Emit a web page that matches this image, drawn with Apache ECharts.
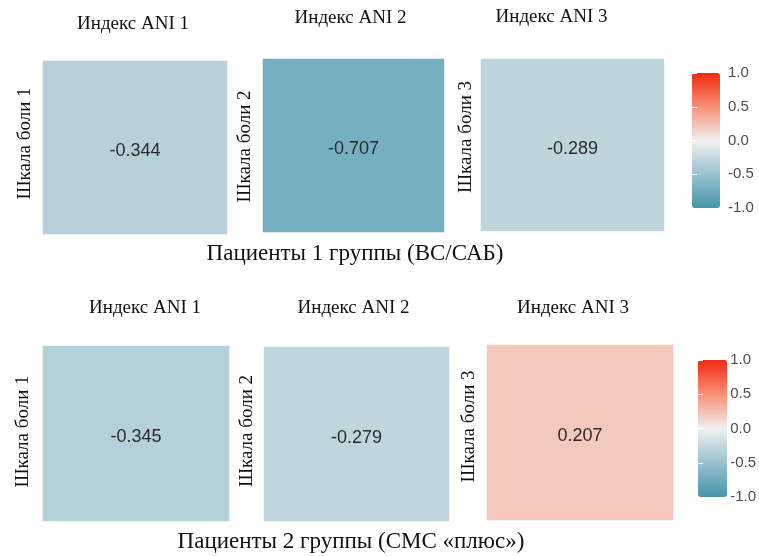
<!DOCTYPE html>
<html>
<head>
<meta charset="utf-8">
<script src="https://cdn.jsdelivr.net/npm/echarts@6/dist/echarts.min.js"></script>
<style>
html, body { margin: 0; padding: 0; background: #fff; }
#chart { width: 759px; height: 556px; }
</style>
</head>
<body>
<div id="chart"></div>
<script>
// данные
const aniLabels = ['Индекс ANI 1', 'Индекс ANI 2', 'Индекс ANI 3'];
const painLabels = ['Шкала боли 1', 'Шкала боли 2', 'Шкала боли 3'];
const group1Values = [-0.344, -0.707, -0.289];
const group2Values = [-0.345, -0.279, 0.207];
const groupTitles = ['Пациенты 1 группы (ВС/САБ)', 'Пациенты 2 группы (СМС «плюс»)'];
const legendMin = -1;
const legendMax = 1;
const legendStep = 0.5;

// палитра: синий - белый - красный
const palette = ['#4495ab', '#9ac2ce', '#efefef', '#f99077', '#ee2b12'];

// положение панелей (px); dx, up - сдвиг подписей
const panels = [
  { left: 43, top: 61, width: 184, height: 173, dx: -2, up: 4, xm: 27, ym: 8 },
  { left: 263, top: 59, width: 181, height: 173, dx: -3, up: -1, xm: 31, ym: 8 },
  { left: 481, top: 59, width: 183, height: 172, dx: -21, up: 8, xm: 32, ym: 5 },
  { left: 43, top: 346, width: 186, height: 175, dx: 9, up: 2, xm: 28, ym: 10 },
  { left: 264, top: 347, width: 185, height: 174, dx: -3, up: 3, xm: 29, ym: 7 },
  { left: 487, top: 345, width: 186, height: 175, dx: -7, up: 6, xm: 27, ym: 8 }
];
const bars = [
  { left: 692, top: 73, width: 28, height: 135 },
  { left: 698, top: 360, width: 29, height: 137 }
];

const serif = 'Liberation Serif';
const sans = 'Liberation Sans';

function shiftPad(d) {
  return d > 0 ? [0, 0, 0, 2 * d] : [0, -2 * d, 0, 0];
}

let myChart = echarts.init(document.getElementById('chart'));

let grid = [], xAxis = [], yAxis = [], series = [];
let values = group1Values.concat(group2Values);

panels.forEach(function (p, i) {
  let k = i % 3;
  grid.push({ left: p.left, top: p.top, width: p.width, height: p.height, containLabel: false });
  xAxis.push({
    type: 'category', gridIndex: i, position: 'top', data: [aniLabels[k]],
    axisLine: { show: false }, axisTick: { show: false }, splitLine: { show: false },
    axisLabel: { margin: p.xm, color: '#111', fontFamily: serif, fontSize: 19, padding: shiftPad(p.dx) }
  });
  yAxis.push({
    type: 'category', gridIndex: i, data: [painLabels[k]],
    axisLine: { show: false }, axisTick: { show: false }, splitLine: { show: false },
    axisLabel: { rotate: 90, margin: p.ym, color: '#111', fontFamily: serif, fontSize: 19, padding: shiftPad(p.up) }
  });
  series.push({
    type: 'heatmap', xAxisIndex: i, yAxisIndex: i,
    data: [[0, 0, values[i]]],
    label: {
      show: true, color: '#2b2b2b', fontFamily: sans, fontSize: 18, offset: [0, 4],
      formatter: function (d) { return d.value[2].toFixed(3); }
    },
    emphasis: { disabled: true }
  });
});

// шкалы цветовых легенд
bars.forEach(function (b, j) {
  let gi = grid.length;
  grid.push({ left: b.left, top: b.top, width: b.width, height: b.height });
  xAxis.push({ type: 'value', gridIndex: gi, show: false });
  yAxis.push({
    type: 'value', gridIndex: gi, position: 'right', min: legendMin, max: legendMax, interval: legendStep, z: 10,
    axisLine: { show: false }, splitLine: { show: false },
    axisTick: { show: true, inside: true, length: 5, lineStyle: { color: '#fff', width: 1 } },
    axisLabel: {
      margin: 8, color: '#4d4d4d', fontFamily: sans, fontSize: 15,
      formatter: function (v) { return v.toFixed(1); }
    }
  });
  yAxis.push({
    type: 'value', gridIndex: gi, position: 'left', min: legendMin, max: legendMax, interval: legendStep, z: 10,
    axisLine: { show: false }, splitLine: { show: false }, axisLabel: { show: false },
    axisTick: { show: true, inside: true, length: 5, lineStyle: { color: '#fff', width: 1 } }
  });
});

let visualMap = bars.map(function (b, j) {
  return {
    type: 'continuous', min: legendMin, max: legendMax, orient: 'vertical',
    left: b.left, top: b.top, itemWidth: b.width, itemHeight: b.height,
    padding: 0, calculable: false, hoverLink: false,
    seriesIndex: j == 0 ? [0, 1, 2] : [3, 4, 5],
    inRange: { color: palette }
  };
});

let title = [
  { text: groupTitles[0], left: 355, top: 242, textAlign: 'center' },
  { text: groupTitles[1], left: 351, top: 530, textAlign: 'center' }
].map(function (t) {
  t.textStyle = { fontFamily: serif, fontSize: 23, fontWeight: 'normal', color: '#111' };
  t.padding = 0;
  return t;
});

myChart.setOption({
  backgroundColor: '#fff',
  animation: false,
  title: title,
  grid: grid,
  xAxis: xAxis,
  yAxis: yAxis,
  visualMap: visualMap,
  series: series
});
</script>
</body>
</html>
